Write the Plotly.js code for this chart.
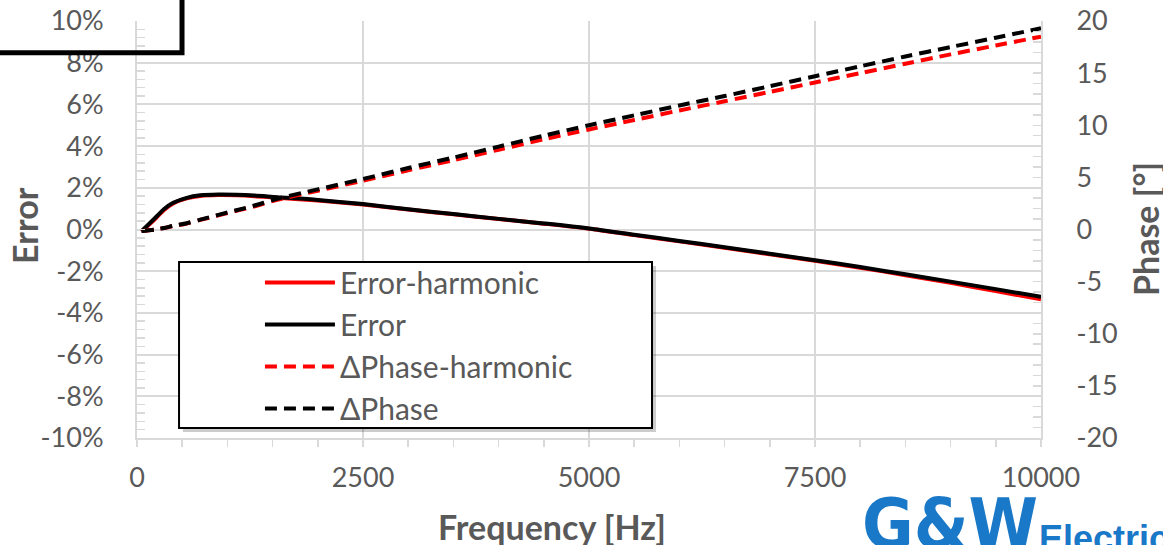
<!DOCTYPE html>
<html>
<head>
<meta charset="utf-8">
<script src="https://cdn.plot.ly/plotly-3.0.1.min.js"></script>
<style>
html,body{margin:0;padding:0;background:#fff;}
#chart{width:1163px;height:545px;}
</style>
</head>
<body>
<div id="chart"></div>
<script>
// ---- data ----
var freq = [50,200,300,400,550,700,900,1100,1300,1550,2000,2500,3000,3500,4000,4500,5000,5500,6000,6500,7000,7500,8000,8500,9000,9500,10000];
var errorHarmonic = [-0.10,0.50,0.94,1.25,1.49,1.61,1.65,1.64,1.60,1.52,1.39,1.20,0.96,0.73,0.50,0.28,0.04,-0.27,-0.57,-0.88,-1.19,-1.50,-1.83,-2.19,-2.56,-2.95,-3.35];
var errorVals = [-0.08,0.55,0.98,1.28,1.52,1.64,1.68,1.67,1.63,1.55,1.42,1.22,0.97,0.74,0.51,0.29,0.05,-0.25,-0.55,-0.85,-1.16,-1.47,-1.80,-2.15,-2.50,-2.86,-3.23];
var phaseHarmonic = [-0.15,0.00,0.15,0.33,0.58,0.92,1.35,1.80,2.22,2.85,3.72,4.68,5.68,6.65,7.65,8.65,9.60,10.50,11.42,12.30,13.20,14.10,15.00,15.90,16.80,17.65,18.50];
var phaseVals = [-0.15,0.00,0.15,0.35,0.60,0.95,1.40,1.85,2.30,2.95,3.85,4.85,5.90,6.90,7.95,9.00,10.00,10.95,11.90,12.80,13.75,14.70,15.65,16.60,17.50,18.40,19.30];

var seriesNames = ['Error-harmonic','Error','\u0394Phase-harmonic','\u0394Phase'];

var freqTickVals = [0,2500,5000,7500,10000];
var freqTickText = ['0','2500','5000','7500','10000'];
var errTickVals = [-10,-8,-6,-4,-2,0,2,4,6,8,10];
var errTickText = ['-10%','-8%','-6%','-4%','-2%','0%','2%','4%','6%','8%','10%'];
var phaseTickVals = [-20,-15,-10,-5,0,5,10,15,20];
var phaseTickText = ['-20','-15','-10','-5','0','5','10','15','20'];

var xTitle = 'Frequency [Hz]';
var yTitle = 'Error';
var y2Title = 'Phase [\u00b0]';

// ---- styling ----
var FONT = 'Lato, "Open Sans", sans-serif';
var GRAY = '#595959';
var GRID = '#d9d9d9';
var RED = '#ff0000';
var BLACK = '#000000';
var DASH = '12px,7px';

var traces = [
  {x: freq, y: errorHarmonic, name: seriesNames[0], yaxis: 'y', legendgroup: 'a',
   mode: 'lines', line: {color: RED, width: 4, shape: 'spline', smoothing: 0.8}},
  {x: freq, y: errorVals, name: seriesNames[1], yaxis: 'y', legendgroup: 'b',
   mode: 'lines', line: {color: BLACK, width: 4, shape: 'spline', smoothing: 0.8}},
  {x: freq, y: phaseHarmonic, name: seriesNames[2], yaxis: 'y2', legendgroup: 'c',
   mode: 'lines', line: {color: RED, width: 4, dash: DASH, shape: 'spline', smoothing: 0.8}},
  {x: freq, y: phaseVals, name: seriesNames[3], yaxis: 'y2', legendgroup: 'd',
   mode: 'lines', line: {color: BLACK, width: 4, dash: DASH, shape: 'spline', smoothing: 0.8}}
];

var layout = {
  width: 1163, height: 545,
  margin: {l: 137, r: 122, t: 21, b: 107, pad: 0},
  paper_bgcolor: '#ffffff', plot_bgcolor: '#ffffff',
  font: {family: FONT, color: GRAY, size: 27},
  showlegend: true,
  legend: {
    x: 0.136, y: 0.435, xanchor: 'left', yanchor: 'top',
    bgcolor: 'rgba(0,0,0,0)', borderwidth: 0,
    font: {family: FONT, size: 30, color: GRAY},
    itemwidth: 70, tracegroupgap: 0, traceorder: 'grouped'
  },
  xaxis: {
    range: [0, 10000], tickmode: 'array', tickvals: freqTickVals, ticktext: freqTickText,
    showgrid: true, gridcolor: GRID, gridwidth: 2,
    showline: true, linecolor: GRID, linewidth: 2, zeroline: false,
    ticks: 'outside', ticklen: 7, tickcolor: GRID, tickwidth: 1.5,
    ticklabelstandoff: 8,
    minor: {tickmode: 'linear', tick0: 0, dtick: 500, ticks: 'outside', ticklen: 7, tickcolor: GRID, tickwidth: 1.5, showgrid: false},
    tickfont: {family: FONT, size: 27, color: GRAY}
  },
  yaxis: {
    range: [-10, 10], tickmode: 'array', tickvals: errTickVals, ticktext: errTickText,
    showgrid: true, gridcolor: GRID, gridwidth: 2,
    showline: true, linecolor: GRID, linewidth: 2, zeroline: false,
    ticks: 'inside', ticklen: 8, tickcolor: GRID, tickwidth: 1.5,
    ticklabelstandoff: 26,
    minor: {tickmode: 'linear', tick0: -10, dtick: 0.4, ticks: 'inside', ticklen: 8, tickcolor: GRID, tickwidth: 1.5, showgrid: false},
    tickfont: {family: FONT, size: 27, color: GRAY}
  },
  yaxis2: {
    range: [-20, 20], overlaying: 'y', side: 'right',
    tickmode: 'array', tickvals: phaseTickVals, ticktext: phaseTickText,
    showgrid: false, showline: true, linecolor: GRID, linewidth: 2, zeroline: false,
    ticks: 'inside', ticklen: 8, tickcolor: GRID, tickwidth: 1.5,
    ticklabelstandoff: 28,
    minor: {tickmode: 'linear', tick0: -20, dtick: 1, ticks: 'inside', ticklen: 8, tickcolor: GRID, tickwidth: 1.5, showgrid: false},
    tickfont: {family: FONT, size: 27, color: GRAY}
  },
  shapes: [
    // legend shadow + frame
    {type: 'rect', xref: 'paper', yref: 'paper', x0: 0.0509, x1: 0.5741, y0: 0.0144, y1: 0.4125,
     fillcolor: 'rgba(0,0,0,0.2)', line: {width: 0}, layer: 'above'},
    {type: 'rect', xref: 'paper', yref: 'paper', x0: 0.0465, x1: 0.5697, y0: 0.024, y1: 0.4221,
     fillcolor: '#ffffff', line: {color: '#000000', width: 2}, layer: 'above'},
    // cropped frame at top-left
    {type: 'rect', xref: 'paper', yref: 'paper', x0: -0.3, x1: 0.0498, y0: 0.924, y1: 1.2,
     fillcolor: 'rgba(0,0,0,0)', line: {color: '#000000', width: 5}, layer: 'above'}
  ],
  annotations: [
    {text: '<b>' + xTitle + '</b>', xref: 'paper', yref: 'paper', x: 0.459, y: -0.2134,
     xanchor: 'center', yanchor: 'middle', showarrow: false,
     font: {family: FONT, size: 34, color: GRAY}},
    {text: '<b>' + yTitle + '</b>', xref: 'paper', yref: 'paper', x: -0.1239, y: 0.511,
     xanchor: 'center', yanchor: 'middle', showarrow: false, textangle: -90,
     font: {family: FONT, size: 34, color: GRAY}},
    {text: '<b>' + y2Title + '</b>', xref: 'paper', yref: 'paper', x: 1.115, y: 0.501,
     xanchor: 'center', yanchor: 'middle', showarrow: false, textangle: -90,
     font: {family: FONT, size: 34, color: GRAY}},
    {text: '<b>G&amp;W</b>', xref: 'paper', yref: 'paper', x: 0.80, y: -0.102,
     xanchor: 'left', yanchor: 'top', showarrow: false,
     font: {family: '"DejaVu Sans Condensed", "DejaVu Sans", sans-serif', size: 70, color: '#1a78c8'}},
    {text: '<b>Electric</b>', xref: 'paper', yref: 'paper', x: 0.996, y: -0.187,
     xanchor: 'left', yanchor: 'top', showarrow: false,
     font: {family: '"Liberation Sans", Arial, sans-serif', size: 36, color: '#1a78c8'}}
  ]
};

Plotly.newPlot('chart', traces, layout, {displayModeBar: false, staticPlot: true});
</script>
</body>
</html>
